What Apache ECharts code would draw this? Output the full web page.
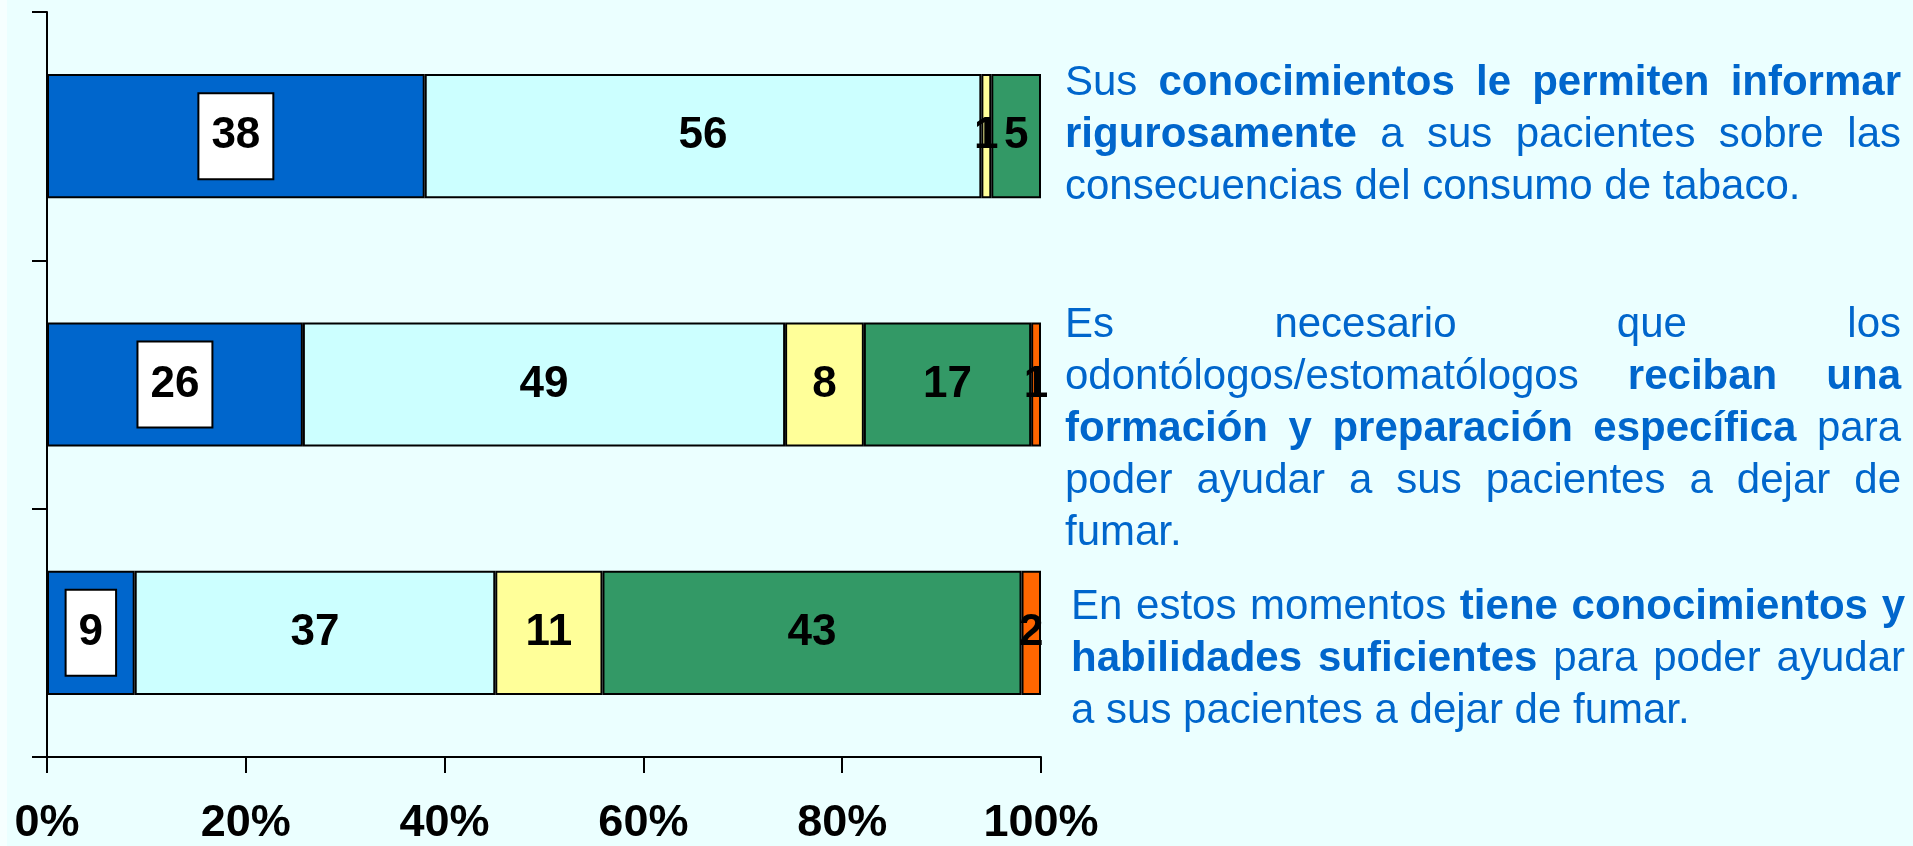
<!DOCTYPE html>
<html>
<head>
<meta charset="utf-8">
<title>Formación en tabaquismo</title>
<script src="https://cdn.jsdelivr.net/npm/echarts@6/dist/echarts.min.js"></script>
<style>
    html, body { margin: 0; padding: 0; background: #EBFFFF; }
    #main { width: 1913px; height: 846px; }
</style>
</head>
<body>
<div id="main"></div>
<script>
// one entry per bar, top to bottom
var categories = ['Informar rigurosamente', 'Formación específica', 'Conocimientos suficientes'];
var serieTotalmenteDeAcuerdo = [38, 26, 9];
var serieDeAcuerdo = [56, 49, 37];
var serieIndiferente = [1, 8, 11];
var serieEnDesacuerdo = [5, 17, 43];
var serieTotalmenteEnDesacuerdo = [0, 1, 2];
var xTicks = [0, 20, 40, 60, 80, 100];

// texts next to each bar; [text, bold]
var textoInformar = [
    [['Sus ', false], ['conocimientos le permiten informar', true]],
    [['rigurosamente', true], [' a sus pacientes sobre las', false]],
    [['consecuencias del consumo de tabaco.', false]]
];
var textoFormacion = [
    [['Es necesario que los', false]],
    [['odontólogos/estomatólogos ', false], ['reciban una', true]],
    [['formación y preparación específica', true], [' para', false]],
    [['poder ayudar a sus pacientes a dejar de', false]],
    [['fumar.', false]]
];
var textoHabilidades = [
    [['En estos momentos ', false], ['tiene conocimientos y', true]],
    [['habilidades suficientes', true], [' para poder ayudar', false]],
    [['a sus pacientes a dejar de fumar.', false]]
];

var FONT = '"Liberation Sans", Arial, sans-serif';
var TEXT_SIZE = 42;
var TEXT_COLOR = '#0066CC';

var seriesDefs = [
    { name: 'Totalmente de acuerdo', data: serieTotalmenteDeAcuerdo, color: '#0066CC' },
    { name: 'De acuerdo', data: serieDeAcuerdo, color: '#CCFFFF' },
    { name: 'Indiferente', data: serieIndiferente, color: '#FFFF99' },
    { name: 'En desacuerdo', data: serieEnDesacuerdo, color: '#339966' },
    { name: 'Totalmente en desacuerdo', data: serieTotalmenteEnDesacuerdo, color: '#FF6600' }
];

// 100% stacked: each bar is scaled to its own total
var totals = categories.map(function (c, i) {
    return seriesDefs.reduce(function (sum, s) { return sum + s.data[i]; }, 0);
});

var measureCtx = document.createElement('canvas').getContext('2d');
function textWidth(str, bold) {
    measureCtx.font = (bold ? 'bold ' : '') + TEXT_SIZE + 'px ' + FONT;
    return measureCtx.measureText(str).width;
}

// justified paragraph, last line left aligned
function paragraph(lines, left, right, top, lineStep) {
    var els = [];
    lines.forEach(function (segs, li) {
        var words = [];
        segs.forEach(function (seg) {
            seg[0].split(' ').forEach(function (w) {
                if (w) words.push({ text: w, bold: seg[1], width: textWidth(w, seg[1]) });
            });
        });
        var used = words.reduce(function (sum, w) { return sum + w.width; }, 0);
        var gap = textWidth(' ', false);
        if (li < lines.length - 1 && words.length > 1)
            gap = (right - left - used) / (words.length - 1);
        var x = left;
        words.forEach(function (w) {
            els.push({
                type: 'text',
                x: x,
                y: top + li * lineStep,
                style: {
                    text: w.text,
                    fill: TEXT_COLOR,
                    fontSize: TEXT_SIZE,
                    fontWeight: w.bold ? 'bold' : 'normal',
                    fontFamily: FONT,
                    verticalAlign: 'middle'
                }
            });
            x += w.width + gap;
        });
    });
    return els;
}

var myChart = echarts.init(document.getElementById('main'));

var series = seriesDefs.map(function (s, si) {
    var label = {
        show: true,
        position: 'inside',
        color: '#000',
        fontSize: 44,
        fontWeight: 'bold',
        fontFamily: FONT,
        formatter: function (p) { return s.data[p.dataIndex]; }
    };
    if (si === 0) {
        label.backgroundColor = '#fff';
        label.borderColor = '#000';
        label.borderWidth = 2;
        label.lineHeight = 44;
        label.padding = [20, 12];
    }
    return {
        name: s.name,
        type: 'bar',
        stack: 'total',
        barWidth: '50%',
        data: s.data.map(function (v, i) {
            return v === 0 ? null : v / totals[i] * 100;
        }),
        itemStyle: { color: s.color, borderColor: '#000', borderWidth: 2 },
        label: label,
        emphasis: { disabled: true }
    };
});

var option = {
    backgroundColor: '#EBFFFF',
    animation: false,
    grid: { left: 47, right: 872, top: 12, bottom: 89 },
    xAxis: {
        type: 'value',
        min: xTicks[0],
        max: xTicks[xTicks.length - 1],
        interval: xTicks[1] - xTicks[0],
        axisLine: { show: true, lineStyle: { color: '#000', width: 2 } },
        axisTick: { show: true, length: 16, lineStyle: { color: '#000', width: 2 } },
        splitLine: { show: false },
        axisLabel: {
            formatter: '{value}%',
            color: '#000',
            fontSize: 45,
            fontWeight: 'bold',
            fontFamily: FONT,
            margin: 44
        }
    },
    yAxis: {
        type: 'category',
        data: categories,
        inverse: true,
        axisLine: { show: true, lineStyle: { color: '#000', width: 2 } },
        axisTick: { show: true, length: 15, lineStyle: { color: '#000', width: 2 } },
        axisLabel: { show: false }
    },
    graphic: [{
        type: 'rect',
        shape: { x: 0, y: 0, width: 7, height: 846 },
        style: { fill: '#F6FFFF' },
        silent: true
    }]
        .concat(paragraph(textoInformar, 1065, 1901, 83, 52))
        .concat(paragraph(textoFormacion, 1065, 1901, 325, 52))
        .concat(paragraph(textoHabilidades, 1071, 1905, 607, 52)),
    series: series
};

myChart.setOption(option);

window.addEventListener('resize', function () {
    myChart.resize();
});
</script>
</body>
</html>
